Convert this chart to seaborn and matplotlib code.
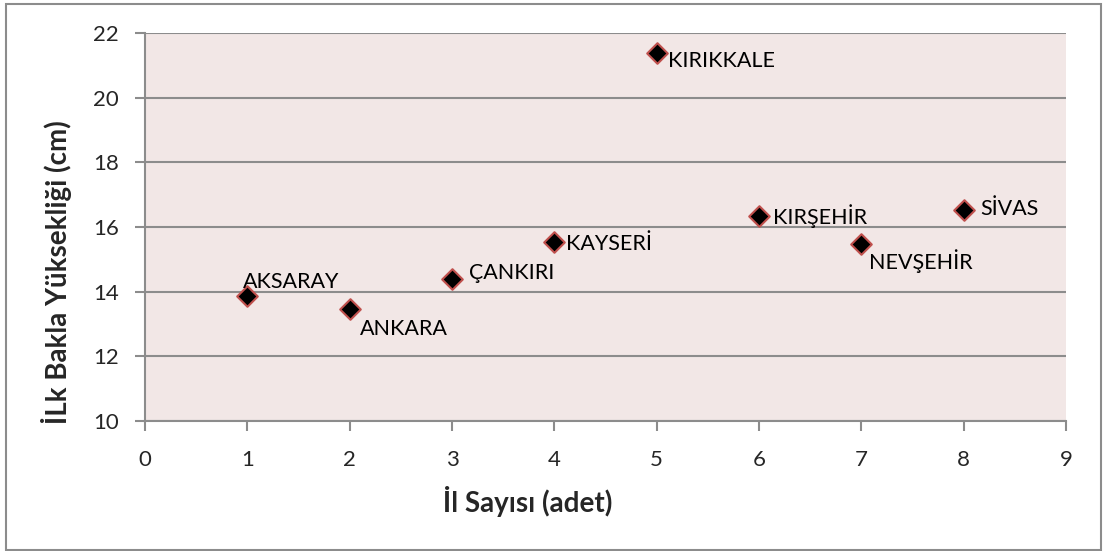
import matplotlib
matplotlib.use("Agg")
import matplotlib.pyplot as plt
import seaborn as sns
import pandas as pd
from matplotlib.patches import Rectangle

# Veriler
iller = ['AKSARAY', 'ANKARA', 'ÇANKIRI', 'KAYSERİ', 'KIRIKKALE', 'KIRŞEHİR', 'NEVŞEHİR', 'SİVAS']
il_sayisi = [1, 2, 3, 4, 5, 6, 7, 8]
bakla_yuksekligi = [13.87, 13.45, 14.40, 15.53, 21.37, 16.33, 15.48, 16.53]
# etiket kaydırmaları (piksel)
etiket_dx = [-4, 10, 17, 12, 11, 14, 8, 17]
etiket_dy = [14, -20, 6, -2, -8, 0, -17, 1]

df = pd.DataFrame({'il': iller, 'x': il_sayisi, 'y': bakla_yuksekligi})

sns.set_style("white")
plt.rcParams['font.family'] = ['Lato', 'DejaVu Sans']

fig = plt.figure(figsize=(11.03, 5.51), dpi=100)
ax = fig.add_axes([0.1315, 0.2359, 0.835, 0.7042])
ax.set_facecolor('#F2E7E6')

sns.scatterplot(data=df, x='x', y='y', marker='D', s=110, color='black',
                edgecolor='#C0504D', linewidth=1.5, ax=ax, zorder=3)

for il, x, y, dx, dy in zip(iller, il_sayisi, bakla_yuksekligi, etiket_dx, etiket_dy):
    ax.annotate(il, (x, y), xytext=(dx, dy), textcoords='offset pixels',
                fontsize=15.5, va='center', ha='left', color='black')

ax.set_xlim(0, 9)
ax.set_ylim(10, 22)
ax.set_xticks(range(0, 10))
ax.set_yticks(range(10, 23, 2))
ax.yaxis.grid(True, color='#8C8C8C', linewidth=1.5)
ax.set_axisbelow(True)

for s in ['top', 'right']:
    ax.spines[s].set_visible(False)
for s in ['left', 'bottom']:
    ax.spines[s].set_color('#8C8C8C')
    ax.spines[s].set_linewidth(1.5)

ax.tick_params(axis='both', direction='out', length=7, width=1.5, color='#8C8C8C',
               labelsize=16, left=True, bottom=True)
ax.tick_params(axis='x', pad=14)
ax.tick_params(axis='y', pad=12)

ax.set_xlabel('İl Sayısı (adet)', fontsize=20, fontweight='bold', va='top')
ax.set_ylabel('İLk Bakla Yüksekliği (cm)', fontsize=20, fontweight='bold')
ax.xaxis.set_label_coords(0.416, -0.167)
ax.yaxis.set_label_coords(-0.079, 0.384)

# dış çerçeve
fig.patches.append(Rectangle((6 / 1103, 1 / 551), 1095 / 1103, 546 / 551,
                             transform=fig.transFigure, fill=False,
                             edgecolor='#8C8C8C', linewidth=1.5))

fig.savefig('out.png', dpi=100)
